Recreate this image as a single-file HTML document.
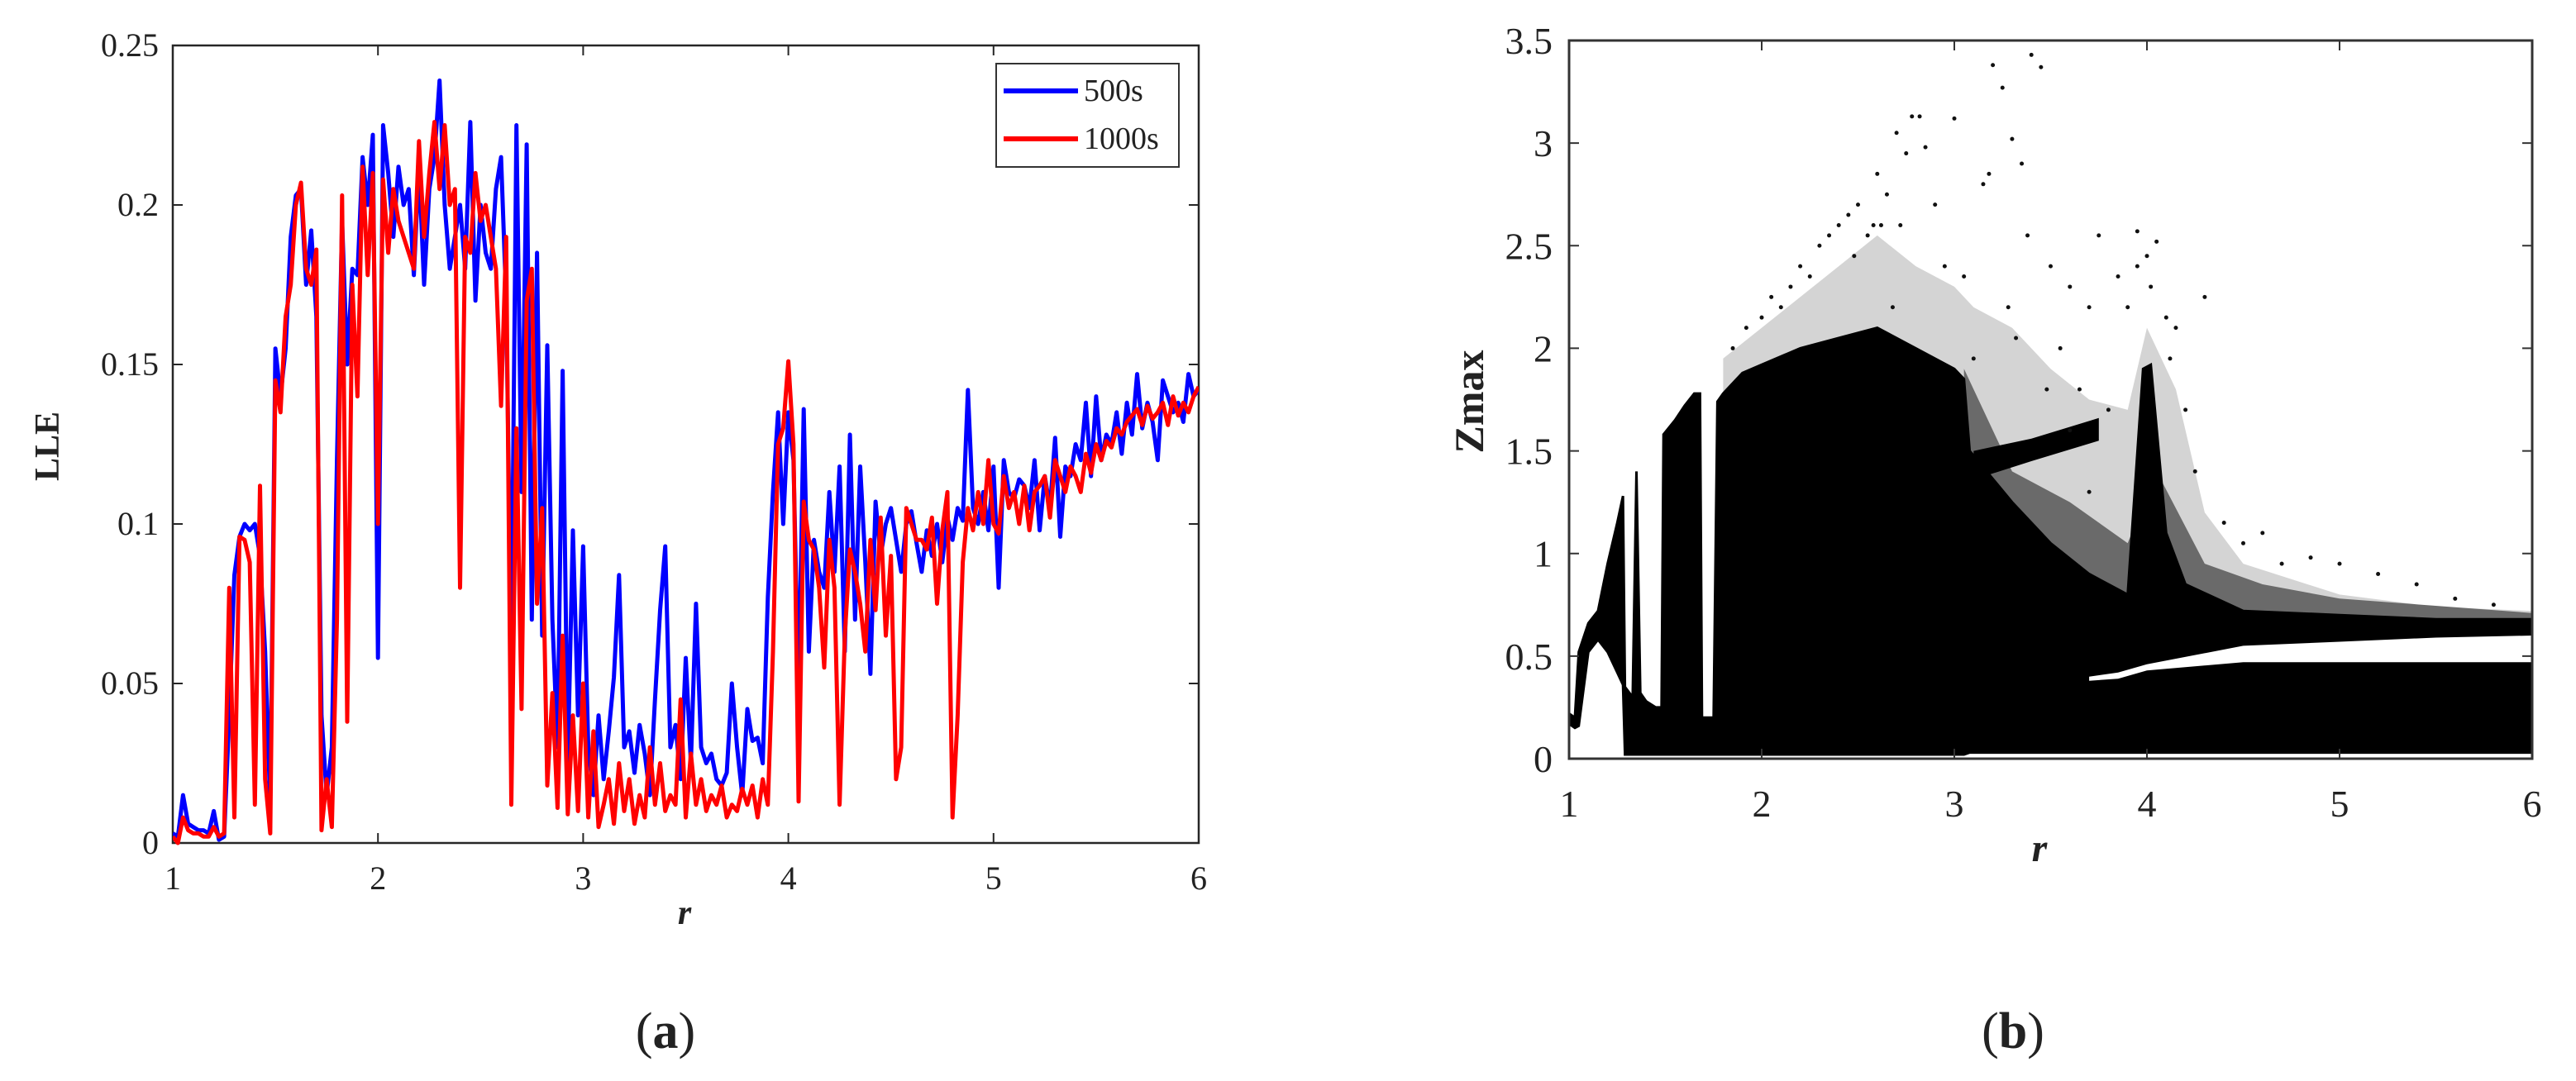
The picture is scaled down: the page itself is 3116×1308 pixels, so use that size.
<!DOCTYPE html>
<html><head><meta charset="utf-8">
<style>
html,body{margin:0;padding:0;background:#fff;}
svg{display:block;}
text{font-family:"Liberation Serif",serif;fill:#222;}
</style></head>
<body>
<svg id="fig" width="3116" height="1308" viewBox="0 0 3116 1308" xmlns="http://www.w3.org/2000/svg">
  <g id="chartA"></g>
  <g id="chartB"></g>
  <text x="805" y="1268" text-anchor="middle" font-size="62">(<tspan font-weight="bold">a</tspan>)</text>
  <text x="2435" y="1268" text-anchor="middle" font-size="62">(<tspan font-weight="bold">b</tspan>)</text>
</svg>
<script>
// ---------- Chart A data ----------
const rStart = 1.0, rStep = 0.025;
const xTicksA = [1,2,3,4,5,6];
const yTicksA = [0,0.05,0.1,0.15,0.2,0.25];
const yTickLabelsA = ["0","0.05","0.1","0.15","0.2","0.25"];
const seriesNames = ["500s","1000s"];
const lle500 = [
0.003,0.002,0.015,0.006,0.005,0.004,0.004,0.003,
0.010,0.001,0.002,0.040,0.084,0.096,0.100,0.098,
0.100,0.090,0.060,0.012,0.155,0.140,0.155,0.190,
0.203,0.205,0.175,0.192,0.165,0.040,0.015,0.030,
0.120,0.195,0.150,0.180,0.178,0.215,0.200,0.222,
0.058,0.225,0.210,0.190,0.212,0.200,0.205,0.178,
0.212,0.175,0.205,0.215,0.239,0.200,0.180,0.190,
0.200,0.180,0.226,0.170,0.200,0.185,0.180,0.205,
0.215,0.170,0.060,0.225,0.110,0.219,0.070,0.185,
0.065,0.156,0.070,0.030,0.148,0.025,0.098,0.040,
0.093,0.030,0.015,0.040,0.020,0.035,0.052,0.084,
0.030,0.035,0.022,0.037,0.028,0.015,0.045,0.073,
0.093,0.030,0.037,0.020,0.058,0.025,0.075,0.030,
0.025,0.028,0.020,0.018,0.022,0.050,0.030,0.015,
0.042,0.032,0.033,0.025,0.077,0.110,0.135,0.100,
0.135,0.120,0.046,0.136,0.060,0.095,0.085,0.080,
0.110,0.085,0.118,0.060,0.128,0.070,0.118,0.088,
0.053,0.107,0.090,0.100,0.105,0.095,0.085,0.100,
0.104,0.094,0.085,0.098,0.090,0.100,0.088,0.102,
0.095,0.105,0.101,0.142,0.105,0.100,0.110,0.098,
0.118,0.080,0.120,0.110,0.108,0.114,0.112,0.105,
0.120,0.098,0.115,0.105,0.127,0.096,0.118,0.115,
0.125,0.120,0.138,0.115,0.140,0.120,0.128,0.125,
0.135,0.122,0.138,0.128,0.147,0.130,0.138,0.132,
0.120,0.145,0.140,0.135,0.138,0.132,0.147,0.140,
0.142];
const lle1000 = [
0.002,0.000,0.008,0.004,0.003,0.003,0.002,0.002,
0.005,0.002,0.003,0.080,0.008,0.096,0.095,0.088,
0.012,0.112,0.020,0.003,0.145,0.135,0.165,0.175,
0.200,0.207,0.180,0.175,0.186,0.004,0.020,0.005,
0.070,0.203,0.038,0.175,0.140,0.212,0.178,0.210,
0.100,0.208,0.185,0.205,0.195,0.190,0.185,0.180,
0.220,0.190,0.210,0.226,0.205,0.225,0.200,0.205,
0.080,0.190,0.185,0.210,0.195,0.200,0.190,0.180,
0.137,0.190,0.012,0.130,0.042,0.170,0.180,0.075,
0.105,0.018,0.047,0.011,0.065,0.009,0.040,0.010,
0.050,0.008,0.035,0.005,0.012,0.020,0.006,0.025,
0.010,0.020,0.006,0.015,0.008,0.030,0.012,0.025,
0.010,0.015,0.012,0.045,0.008,0.028,0.012,0.020,
0.010,0.015,0.012,0.018,0.008,0.012,0.010,0.017,
0.012,0.018,0.008,0.020,0.012,0.060,0.125,0.130,
0.151,0.125,0.013,0.107,0.095,0.092,0.080,0.055,
0.095,0.080,0.012,0.065,0.092,0.085,0.075,0.060,
0.095,0.073,0.102,0.065,0.090,0.020,0.030,0.105,
0.100,0.095,0.095,0.092,0.102,0.075,0.098,0.110,
0.008,0.040,0.088,0.105,0.098,0.110,0.100,0.120,
0.100,0.097,0.115,0.105,0.110,0.100,0.112,0.098,
0.110,0.112,0.115,0.102,0.120,0.115,0.110,0.118,
0.115,0.110,0.122,0.116,0.125,0.120,0.126,0.124,
0.130,0.128,0.132,0.134,0.136,0.131,0.137,0.133,
0.135,0.138,0.131,0.140,0.134,0.138,0.135,0.140,
0.143];

// ---------- Chart B data ----------
const xTicksB = [1,2,3,4,5,6];
const yTicksB = [0,0.5,1,1.5,2,2.5,3,3.5];
const yTickLabelsB = ["0","0.5","1","1.5","2","2.5","3","3.5"];
const bandR  = [1.00,1.03,1.05,1.10,1.15,1.20,1.25,1.28,1.29,1.33,1.35,1.37,1.40,1.45,1.48,1.49,1.55,1.60,1.65,1.68,1.69,1.75,1.77,1.80,1.90,2.00,2.20,2.40,2.60,2.80,3.00,3.05,3.08,3.30,3.50,3.70,3.90,3.98,4.02,4.10,4.20,4.50,5.00,5.50,6.00];
const bandLo = [0.17,0.15,0.16,0.52,0.58,0.52,0.42,0.36,0.02,0.02,0.02,0.02,0.02,0.02,0.02,0.02,0.02,0.02,0.02,0.02,0.02,0.02,0.02,0.02,0.02,0.02,0.02,0.02,0.02,0.02,0.02,0.02,0.03,0.03,0.03,0.03,0.03,0.03,0.03,0.03,0.03,0.03,0.03,0.03,0.03];
const bandHi = [0.22,0.20,0.52,0.66,0.72,0.95,1.15,1.28,0.35,0.30,1.40,0.32,0.28,0.25,0.25,1.58,1.65,1.72,1.78,1.78,0.20,0.20,1.74,1.78,1.88,1.92,2.00,2.05,2.10,2.00,1.90,1.85,1.50,1.25,1.05,0.90,0.80,1.90,1.92,1.10,0.85,0.72,0.70,0.68,0.68];
const sparseR  = [1.80,2.00,2.20,2.40,2.60,2.80,3.00,3.10,3.30,3.50,3.70,3.90,4.00,4.15,4.30,4.50,5.00,5.50,6.00];
const sparseHi = [1.95,2.10,2.25,2.40,2.55,2.40,2.30,2.20,2.10,1.90,1.75,1.70,2.10,1.80,1.20,0.95,0.80,0.74,0.72];
const midR  = [3.05,3.30,3.60,3.90,4.05,4.30,4.60,5.00,6.00];
const midHi = [1.90,1.40,1.25,1.05,1.40,0.95,0.85,0.78,0.71];
const gapR  = [3.70,3.85,4.00,4.50,5.00,5.50,6.00];
const gapLo = [0.38,0.39,0.43,0.47,0.47,0.47,0.47];
const gapHi = [0.40,0.42,0.46,0.55,0.57,0.59,0.60];
const ridgeR  = [3.10,3.40,3.75];
const ridgeLo = [1.36,1.45,1.55];
const ridgeHi = [1.50,1.56,1.66];
const scatterR = [1.85,1.92,2.00,2.05,2.10,2.15,2.20,2.25,2.30,2.35,2.40,2.45,2.50,2.55,2.60,2.62,2.65,2.70,2.75,2.78,2.82,2.85,2.90,2.95,3.00,3.05,3.15,3.20,3.25,3.30,3.35,3.40,3.45,3.50,3.55,3.60,3.65,3.70,3.75,3.80,3.85,3.90,3.95,4.00,4.05,4.10,4.15,4.20,4.25,4.30,4.40,4.50,4.60,4.70,4.85,5.00,5.20,5.40,5.60,5.80,2.68,2.72,3.10,3.28,3.38,3.60,3.95,4.02,4.12,3.18,2.48,2.58,3.32,3.48,3.70];
const scatterZ = [2.00,2.10,2.15,2.25,2.20,2.30,2.40,2.35,2.50,2.55,2.60,2.65,2.70,2.55,2.85,2.60,2.75,3.05,2.95,3.13,3.13,2.98,2.70,2.40,3.12,2.35,2.80,3.38,3.27,3.02,2.90,3.43,3.37,2.40,2.00,2.30,1.80,2.20,2.55,1.70,2.35,2.20,2.57,2.45,2.52,2.15,2.10,1.70,1.40,2.25,1.15,1.05,1.10,0.95,0.98,0.95,0.90,0.85,0.78,0.75,2.20,2.60,1.95,2.20,2.55,1.60,2.40,2.30,1.95,2.85,2.45,2.60,2.05,1.80,1.30];

const NS = "http://www.w3.org/2000/svg";
function mk(tag, attrs, parent){const e=document.createElementNS(NS,tag);for(const k in attrs)e.setAttribute(k,attrs[k]);parent.appendChild(e);return e;}

// ---------- Chart A ----------
(function(){
  const g = document.getElementById('chartA');
  const L=209,R=1450,T=55,B=1020;
  const xS = r => L + (r-1)/5*(R-L);
  const yS = v => B - v/0.25*(B-T);
  const frame = mk('rect',{x:L,y:T,width:R-L,height:B-T,fill:'none',stroke:'#262626','stroke-width':2.5},g);
  
  
  xTicksA.forEach(t=>{
    const x=xS(t);
    const tk = mk('path',{d:`M${x},${B}v-12M${x},${T}v12`,stroke:'#262626','stroke-width':2},g);
    
    
    const tl = mk('text',{x:x,y:1076,'text-anchor':'middle','font-size':40},g);
    tl.textContent=String(t);
    
    
  });
  yTicksA.forEach((t,i)=>{
    const y=yS(t);
    const tk = mk('path',{d:`M${L},${y}h12M${R},${y}h-12`,stroke:'#262626','stroke-width':2},g);
    
    
    const tl = mk('text',{x:192,y:y+13,'text-anchor':'end','font-size':40},g);
    tl.textContent=yTickLabelsA[i];
    
    
  });
  const clip = mk('clipPath',{id:'clipA'},g);
  mk('rect',{x:L,y:T-3,width:R-L,height:B-T+6},clip);
  const pathFor = arr => arr.map((v,i)=>(i?'L':'M')+xS(rStart+i*rStep).toFixed(1)+','+yS(v).toFixed(1)).join('');
  const blue = mk('path',{d:pathFor(lle500),fill:'none',stroke:'#0000ff','stroke-width':5,'stroke-linejoin':'round','clip-path':'url(#clipA)'},g);
  
  
  const red = mk('path',{d:pathFor(lle1000),fill:'none',stroke:'#ff0000','stroke-width':5,'stroke-linejoin':'round','clip-path':'url(#clipA)'},g);
  
  
  const lg = mk('g',{},g);
  
  
  mk('rect',{x:1205,y:77,width:221,height:125,fill:'#fff',stroke:'#333','stroke-width':2},lg);
  const colors=['#0000ff','#ff0000'], ys=[110,168];
  seriesNames.forEach((n,i)=>{
    const ln = mk('line',{x1:1214,x2:1304,y1:ys[i],y2:ys[i],stroke:colors[i],'stroke-width':6},lg);
    
    
    const tx = mk('text',{x:1311,y:ys[i]+12,'font-size':38},lg);
    tx.textContent=n;
    
    
  });
  const yl = mk('text',{x:0,y:0,'font-size':42,'font-weight':'bold','text-anchor':'middle',transform:'translate(71,540) rotate(-90)'},g);
  yl.textContent='LLE';
  
  
  const xl = mk('text',{x:828,y:1118,'font-size':42,'font-weight':'bold','font-style':'italic','text-anchor':'middle'},g);
  xl.textContent='r';
  
  
})();

// ---------- Chart B ----------
(function(){
  const g = document.getElementById('chartB');
  const L=1898,R=3063,T=49,B=918;
  const xS = r => L + (r-1)/5*(R-L);
  const yS = v => B - v/3.5*(B-T);
  const clip = mk('clipPath',{id:'clipB'},g);
  mk('rect',{x:L,y:T,width:R-L,height:B-T},clip);
  const area = (rs,lo,hi) => {
    let d = rs.map((r,i)=>(i?'L':'M')+xS(r).toFixed(1)+','+yS(hi[i]).toFixed(1)).join('');
    for(let i=rs.length-1;i>=0;i--) d += 'L'+xS(rs[i]).toFixed(1)+','+yS(lo[i]).toFixed(1);
    return d+'Z';
  };
  const zeros = n => new Array(n).fill(0.03);
  const sparse = mk('path',{d:area(sparseR,zeros(sparseR.length),sparseHi),fill:'#d4d4d4','clip-path':'url(#clipB)'},g);
  
  
  const mid = mk('path',{d:area(midR,zeros(midR.length),midHi),fill:'#6a6a6a','clip-path':'url(#clipB)'},g);
  
  
  const band = mk('path',{d:area(bandR,bandLo,bandHi),fill:'#000',stroke:'#000','stroke-width':3,'clip-path':'url(#clipB)'},g);
  
  
  const ridge = mk('path',{d:area(ridgeR,ridgeLo,ridgeHi),fill:'#000','clip-path':'url(#clipB)'},g);
  
  
  const gap = mk('path',{d:area(gapR,gapLo,gapHi),fill:'#fff','clip-path':'url(#clipB)'},g);
  
  
  scatterR.forEach((r,i)=>{
    const c = mk('circle',{cx:xS(r),cy:yS(scatterZ[i]),r:2.5,fill:'#111'},g);
    
    
  });
  const frame = mk('rect',{x:L,y:T,width:R-L,height:B-T,fill:'none',stroke:'#333','stroke-width':3},g);
  
  
  xTicksB.forEach(t=>{
    const x=xS(t);
    const tk = mk('path',{d:`M${x},${B}v-12M${x},${T}v12`,stroke:'#333','stroke-width':2},g);
    
    
    const tl = mk('text',{x:x,y:988,'text-anchor':'middle','font-size':46},g);
    tl.textContent=String(t);
    
    
  });
  yTicksB.forEach((t,i)=>{
    const y=yS(t);
    const tk = mk('path',{d:`M${L},${y}h12M${R},${y}h-12`,stroke:'#333','stroke-width':2},g);
    
    
    const tl = mk('text',{x:1878,y:y+16,'text-anchor':'end','font-size':46},g);
    tl.textContent=yTickLabelsB[i];
    
    
  });
  const yl = mk('text',{x:0,y:0,'font-size':50,'font-weight':'bold','text-anchor':'middle',transform:'translate(1794,486) rotate(-90)'},g);
  yl.textContent='Zmax';
  
  
  const xl = mk('text',{x:2467,y:1042,'font-size':48,'font-weight':'bold','font-style':'italic','text-anchor':'middle'},g);
  xl.textContent='r';
  
  
})();
</script>
</body></html>
